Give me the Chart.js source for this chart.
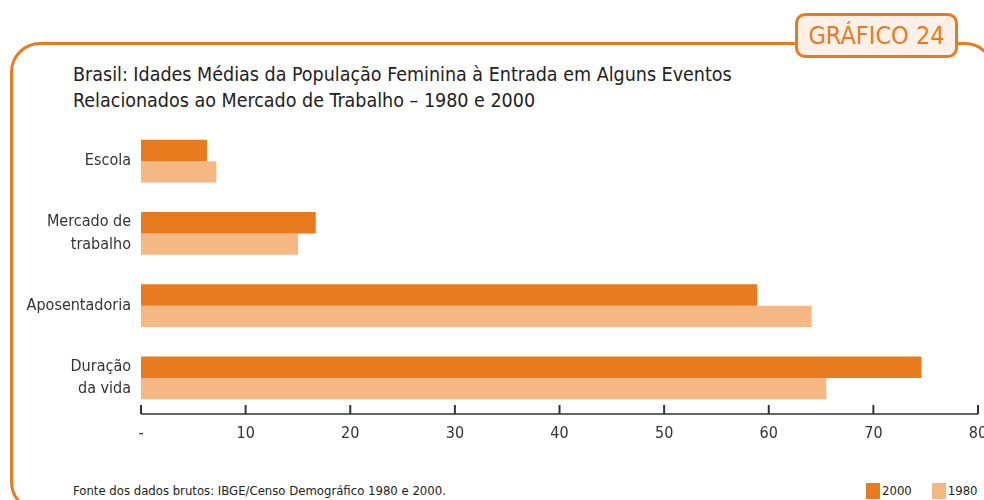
<!DOCTYPE html>
<html>
<head>
<meta charset="utf-8">
<script src="https://cdn.jsdelivr.net/npm/chart.js@4/dist/chart.umd.min.js"></script>
<style>
  body { margin: 0; background: #fff; }
  #wrap { position: relative; width: 984px; height: 500px; overflow: hidden; font-family: "DejaVu Sans Condensed", "Liberation Sans Narrow", sans-serif; }
  #moldura { position: absolute; left: 10px; top: 42px; width: 985px; height: 470px; border: 3px solid #E87B1E; border-radius: 30px; box-sizing: border-box; }
  #selo { position: absolute; left: 795px; top: 13px; width: 163px; height: 45px; box-sizing: border-box; border: 3px solid #E87B1E; border-radius: 10px; background: #FDF0E8; color: #E87B1E; font-size: 25px; text-align: center; line-height: 39px; }
  #titulo { position: absolute; left: 73px; top: 62px; font-size: 19.5px; line-height: 26px; color: #222; }
  #fonte { position: absolute; left: 73px; top: 483px; font-size: 13px; color: #222; white-space: nowrap; }
  #legenda { position: absolute; left: 866px; top: 483px; font-size: 13px; color: #222; white-space: nowrap; }
  #legenda span.q { display: inline-block; width: 14px; height: 16px; vertical-align: -4px; margin-right: 2px; }
  #grafico { position: absolute; left: 0; top: 0; width: 984px; height: 500px; }
</style>
</head>
<body>
<div id="wrap">
  <div id="moldura"></div>
  <div id="selo">GRÁFICO 24</div>
  <div id="titulo">Brasil: Idades Médias da População Feminina à Entrada em Alguns Eventos<br>Relacionados ao Mercado de Trabalho – 1980 e 2000</div>
  <div id="fonte">Fonte dos dados brutos: IBGE/Censo Demográfico 1980 e 2000.</div>
  <div id="legenda"><span class="q" style="background:#E87B1E"></span>2000<span style="display:inline-block;width:20px"></span><span class="q" style="background:#F5B885"></span>1980</div>
  <div id="grafico"><canvas id="c" width="984" height="500"></canvas></div>
</div>
<script>
// dados
var categorias = [['Escola'], ['Mercado de', 'trabalho'], ['Aposentadoria'], ['Duração', 'da vida']];
var idades2000 = [6.3, 16.7, 58.9, 74.6];
var idades1980 = [7.2, 15.0, 64.1, 65.5];
var rotulosX = ['-', '10', '20', '30', '40', '50', '60', '70', '80'];

var corEscura = '#E87B1E';
var corClara = '#F5B885';
var fonteTexto = '"DejaVu Sans Condensed", "Liberation Sans Narrow", sans-serif';

// eixo com marcas para dentro
var eixoPlugin = {
    id: 'eixo',
    afterDatasetsDraw: function (chart) {
        var ctx = chart.ctx;
        var sx = chart.scales.x;
        var y0 = chart.chartArea.bottom;
        ctx.save();
        ctx.strokeStyle = '#333';
        ctx.lineWidth = 1.5;
        ctx.beginPath();
        ctx.moveTo(sx.getPixelForValue(0), y0);
        ctx.lineTo(sx.getPixelForValue(80), y0);
        ctx.stroke();
        ctx.lineWidth = 2;
        sx.ticks.forEach(function (t) {
            var px = sx.getPixelForValue(t.value);
            ctx.beginPath();
            ctx.moveTo(px, y0);
            ctx.lineTo(px, y0 - 9);
            ctx.stroke();
        });
        ctx.restore();
    }
};

new Chart(document.getElementById('c'), {
    type: 'bar',
    data: {
        labels: categorias,
        datasets: [
            { label: '2000', data: idades2000, backgroundColor: corEscura, categoryPercentage: 0.59, barPercentage: 1 },
            { label: '1980', data: idades1980, backgroundColor: corClara, categoryPercentage: 0.59, barPercentage: 1 }
        ]
    },
    plugins: [eixoPlugin],
    options: {
        indexAxis: 'y',
        responsive: false,
        animation: false,
        layout: { padding: { top: 125, right: 6, left: 0, bottom: 0 } },
        plugins: { legend: { display: false }, tooltip: { enabled: false } },
        scales: {
            x: {
                min: 0, max: 80,
                ticks: {
                    stepSize: 10,
                    padding: 10,
                    color: '#333',
                    font: { family: fonteTexto, size: 16 },
                    callback: function (v, i) { return rotulosX[i]; }
                },
                grid: { display: false, drawTicks: false },
                border: { display: false },
                afterFit: function (s) { s.height = 86; s.paddingRight = 0; s.paddingLeft = 0; }
            },
            y: {
                ticks: {
                    padding: 10,
                    color: '#333',
                    font: { family: fonteTexto, size: 16, lineHeight: 1.4 }
                },
                grid: { display: false, drawTicks: false },
                border: { display: false },
                afterFit: function (s) { s.width = 141; }
            }
        }
    }
});
</script>
</body>
</html>
